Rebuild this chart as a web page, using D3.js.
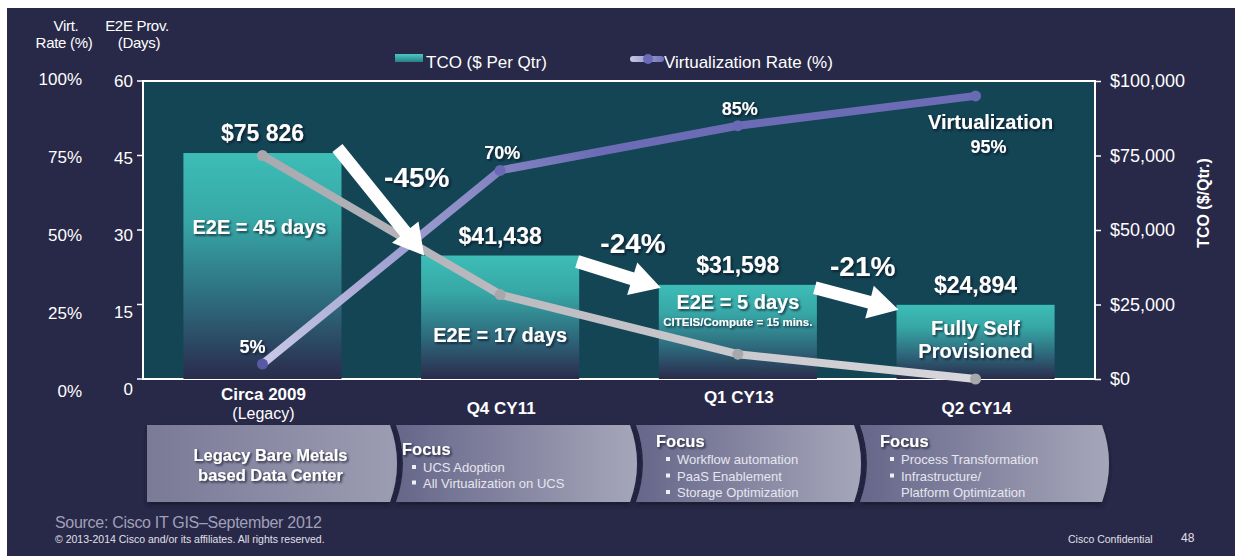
<!DOCTYPE html>
<html>
<head>
<meta charset="utf-8">
<script src="https://cdn.jsdelivr.net/npm/d3@7"></script>
<style>
  html, body { margin: 0; padding: 0; background: #ffffff; }
  svg text { font-family: "Liberation Sans", Arial, sans-serif; }
</style>
</head>
<body>
<div id="chart"></div>
<script>
// chart values
var categories = ["Circa 2009", "Q4 CY11", "Q1 CY13", "Q2 CY14"];
var subLabels = ["(Legacy)", "", "", ""];
var tco = [75826, 41438, 31598, 24894];
var tcoLabels = ["$75 826", "$41,438", "$31,598", "$24,894"];
var e2eDays = [45, 17, 5, 0];
var virtRate = [5, 70, 85, 95];
var barTexts = [["E2E = 45 days"], ["E2E = 17 days"], ["E2E = 5 days", "CITEIS/Compute = 15 mins."], ["Fully Self", "Provisioned"]];
var changeLabels = ["-45%", "-24%", "-21%"];
var virtTicks = [0, 25, 50, 75, 100];
var dayTicks = [0, 15, 30, 45, 60];
var tcoTicks = [0, 25000, 50000, 75000, 100000];
var phaseTitles = ["Legacy Bare Metals\nbased Data Center", "Focus", "Focus", "Focus"];
var phaseItems = [[], ["UCS Adoption", "All Virtualization on UCS"],
  ["Workflow automation", "PaaS Enablement", "Storage Optimization"],
  ["Process Transformation", "Infrastructure/", "~Platform Optimization"]];

var W = 1235, H = 556;
var plot = {left: 143, right: 1095, top: 81, bottom: 379};

var svg = d3.select("#chart").append("svg")
    .attr("width", W).attr("height", H);

var defs = svg.append("defs");

var barGrad = defs.append("linearGradient").attr("id", "barGrad")
    .attr("x1", 0).attr("y1", 0).attr("x2", 0).attr("y2", 1);
barGrad.append("stop").attr("offset", "0%").attr("stop-color", "#3dbdb7");
barGrad.append("stop").attr("offset", "30%").attr("stop-color", "#37a7a6");
barGrad.append("stop").attr("offset", "68%").attr("stop-color", "#2d667a");
barGrad.append("stop").attr("offset", "100%").attr("stop-color", "#2a2b4b");

var legGrad = defs.append("linearGradient").attr("id", "legGrad")
    .attr("x1", 0).attr("y1", 0).attr("x2", 0).attr("y2", 1);
legGrad.append("stop").attr("offset", "0%").attr("stop-color", "#4ac9c2");
legGrad.append("stop").attr("offset", "100%").attr("stop-color", "#2a7f86");

var virtGrad = defs.append("linearGradient").attr("id", "virtGrad")
    .attr("gradientUnits", "userSpaceOnUse")
    .attr("x1", 263).attr("y1", 364).attr("x2", 600).attr("y2", 150);
virtGrad.append("stop").attr("offset", "0%").attr("stop-color", "#c8c8e6");
virtGrad.append("stop").attr("offset", "100%").attr("stop-color", "#6c6cb6");

var dayGrad = defs.append("linearGradient").attr("id", "dayGrad")
    .attr("gradientUnits", "userSpaceOnUse")
    .attr("x1", 263).attr("y1", 155).attr("x2", 975).attr("y2", 380);
dayGrad.append("stop").attr("offset", "0%").attr("stop-color", "#a9a9b0");
dayGrad.append("stop").attr("offset", "100%").attr("stop-color", "#d8d8dc");

var legVirtGrad = defs.append("linearGradient").attr("id", "legVirtGrad")
    .attr("x1", 0).attr("y1", 0).attr("x2", 1).attr("y2", 0);
legVirtGrad.append("stop").attr("offset", "0%").attr("stop-color", "#c8c8e6");
legVirtGrad.append("stop").attr("offset", "100%").attr("stop-color", "#7070b8");

var phaseGrad = defs.append("linearGradient").attr("id", "phaseGrad")
    .attr("x1", 0).attr("y1", 0).attr("x2", 1).attr("y2", 0);
phaseGrad.append("stop").attr("offset", "0%").attr("stop-color", "#66668a");
phaseGrad.append("stop").attr("offset", "100%").attr("stop-color", "#a6a6ba");

var phase1Grad = defs.append("linearGradient").attr("id", "phase1Grad")
    .attr("x1", 0).attr("y1", 0).attr("x2", 1).attr("y2", 0);
phase1Grad.append("stop").attr("offset", "0%").attr("stop-color", "#7a7a98");
phase1Grad.append("stop").attr("offset", "100%").attr("stop-color", "#9c9cb2");

var shadow = defs.append("filter").attr("id", "shadow")
    .attr("x", "-20%").attr("y", "-20%").attr("width", "140%").attr("height", "140%");
shadow.append("feDropShadow").attr("dx", 1.5).attr("dy", 1.5)
    .attr("stdDeviation", 1).attr("flood-color", "#101020").attr("flood-opacity", 0.8);

var panelShadow = defs.append("filter").attr("id", "panelShadow")
    .attr("x", "-5%").attr("y", "-20%").attr("width", "110%").attr("height", "150%");
panelShadow.append("feDropShadow").attr("dx", 0).attr("dy", 3)
    .attr("stdDeviation", 2).attr("flood-color", "#14142a").attr("flood-opacity", 0.8);

// background
svg.append("rect").attr("x", 7).attr("y", 8).attr("width", W - 7).attr("height", H - 8)
    .attr("fill", "#282848");

// scales
var x = d3.scaleBand().domain(categories)
    .range([plot.left, plot.right]).paddingInner(0.335).paddingOuter(0.17);
var yTco = d3.scaleLinear().domain([0, 100000]).range([plot.bottom, plot.top]);
var yDays = d3.scaleLinear().domain([0, 60]).range([plot.bottom, plot.top]);
var yVirt = d3.scaleLinear().domain([0, 100]).range([plot.bottom, plot.top]);
var yLab = d3.scaleLinear().domain([0, 60]).range([plot.bottom + 10, plot.top]);
var yVirtLab = d3.scaleLinear().domain([0, 100]).range([plot.bottom + 12, plot.top - 2]);

// plot area
svg.append("rect")
    .attr("x", plot.left).attr("y", plot.top)
    .attr("width", plot.right - plot.left).attr("height", plot.bottom - plot.top)
    .attr("fill", "#134555").attr("stroke", "#ffffff").attr("stroke-width", 2);

// left days axis
var dayAxis = svg.append("g");
dayAxis.selectAll("line").data(dayTicks).enter().append("line")
    .attr("x1", plot.left - 6).attr("x2", plot.left)
    .attr("y1", function(d) { return yDays(d); }).attr("y2", function(d) { return yDays(d); })
    .attr("stroke", "#ffffff").attr("stroke-width", 1.5);
dayAxis.selectAll("text").data(dayTicks).enter().append("text")
    .attr("x", 133).attr("y", function(d) { return yLab(d); })
    .attr("dy", "0.35em").attr("text-anchor", "end")
    .attr("fill", "#ffffff").attr("font-size", 17)
    .text(function(d) { return d; });

var virtAxis = svg.append("g");
virtAxis.selectAll("text").data(virtTicks).enter().append("text")
    .attr("x", 82).attr("y", function(d) { return yVirtLab(d); })
    .attr("dy", "0.35em").attr("text-anchor", "end")
    .attr("fill", "#ffffff").attr("font-size", 17)
    .text(function(d) { return d + "%"; });

// axis titles
var titles = [["Virt.", 66, 31], ["Rate (%)", 64, 48], ["E2E Prov.", 137, 31], ["(Days)", 139, 48]];
svg.selectAll(".ltitle").data(titles).enter().append("text")
    .attr("class", "ltitle")
    .attr("x", function(d) { return d[1]; }).attr("y", function(d) { return d[2]; })
    .attr("text-anchor", "middle").attr("fill", "#ffffff").attr("font-size", 15)
    .attr("letter-spacing", -0.3)
    .text(function(d) { return d[0]; });

// right axis
var rightAxis = svg.append("g")
    .attr("transform", "translate(" + plot.right + ",0)")
    .call(d3.axisRight(yTco).tickValues(tcoTicks).tickSize(6).tickPadding(9)
      .tickFormat(function(d) { return "$" + d3.format(",")(d); }));
rightAxis.select(".domain").remove();
rightAxis.selectAll("line").attr("stroke", "#ffffff").attr("stroke-width", 1.5);
rightAxis.selectAll("text").attr("fill", "#ffffff").attr("font-size", 18)
    .attr("font-family", "Liberation Sans, Arial, sans-serif");

svg.append("text")
    .attr("transform", "translate(1209,203) rotate(-90)")
    .attr("text-anchor", "middle").attr("fill", "#ffffff")
    .attr("font-size", 16).attr("font-weight", "bold")
    .text("TCO ($/Qtr.)");

// legend
svg.append("rect").attr("x", 395).attr("y", 54).attr("width", 28).attr("height", 8)
    .attr("fill", "url(#legGrad)");
svg.append("text").attr("x", 426).attr("y", 68).attr("fill", "#ffffff")
    .attr("font-size", 17).text("TCO ($ Per Qtr)");
svg.append("rect").attr("x", 630).attr("y", 56).attr("width", 34).attr("height", 6)
    .attr("rx", 3).attr("fill", "url(#legVirtGrad)");
svg.append("circle").attr("cx", 648).attr("cy", 59).attr("r", 5).attr("fill", "#6a6ab8");
svg.append("text").attr("x", 664).attr("y", 68).attr("fill", "#ffffff")
    .attr("font-size", 17).text("Virtualization Rate (%)");

// bars
var bw = x.bandwidth();
svg.selectAll(".bar").data(categories).enter().append("rect")
    .attr("class", "bar")
    .attr("x", function(d) { return x(d); })
    .attr("y", function(d, i) { return yTco(tco[i]); })
    .attr("width", bw)
    .attr("height", function(d, i) { return yTco(0) - yTco(tco[i]); })
    .attr("fill", "url(#barGrad)");

// white arrows between bars
function arrowPath(x0, y0, x1, y1) {
  var dx = x1 - x0, dy = y1 - y0, len = Math.sqrt(dx * dx + dy * dy);
  var ux = dx / len, uy = dy / len, px = -uy, py = ux;
  var sw = 6.5, hw = 17, hl = 30;
  var bx = x1 - ux * hl, by = y1 - uy * hl;
  var pts = [
    [x0 + px * sw, y0 + py * sw], [bx + px * sw, by + py * sw], [bx + px * hw, by + py * hw],
    [x1, y1], [bx - px * hw, by - py * hw], [bx - px * sw, by - py * sw], [x0 - px * sw, y0 - py * sw]
  ];
  return "M" + pts.map(function(p) { return p[0].toFixed(1) + "," + p[1].toFixed(1); }).join("L") + "Z";
}

// lines
var dayLine = d3.line()
    .x(function(d, i) { return x(categories[i]) + bw / 2; })
    .y(function(d) { return yDays(d); });
var virtLine = d3.line()
    .x(function(d, i) { return x(categories[i]) + bw / 2; })
    .y(function(d) { return yVirt(d); });

svg.append("path").datum(virtRate).attr("d", virtLine)
    .attr("fill", "none").attr("stroke", "url(#virtGrad)").attr("stroke-width", 8)
    .attr("stroke-linejoin", "round");
svg.selectAll(".vdot").data(virtRate).enter().append("circle")
    .attr("cx", function(d, i) { return x(categories[i]) + bw / 2; })
    .attr("cy", function(d) { return yVirt(d); })
    .attr("r", 5.5).attr("fill", function(d, i) { return i === 0 ? "#5858a4" : "#6a6ab4"; });

svg.append("path").datum(e2eDays).attr("d", dayLine)
    .attr("fill", "none").attr("stroke", "url(#dayGrad)").attr("stroke-width", 8)
    .attr("stroke-linejoin", "round");
svg.selectAll(".ddot").data(e2eDays).enter().append("circle")
    .attr("cx", function(d, i) { return x(categories[i]) + bw / 2; })
    .attr("cy", function(d) { return yDays(d); })
    .attr("r", 5.5).attr("fill", "#a8a8ac");

var arrowOffsets = [[-4, -5, 3, 0], [-2, 6, 2, 3], [-2, 3, 2, 5]];
var labelOffsets = [[36, -15], [14, -22], [6, -23]];
changeLabels.forEach(function(lbl, i) {
  var o = arrowOffsets[i];
  var x0 = x(categories[i]) + bw + o[0], y0 = yTco(tco[i]) + o[1];
  var x1 = x(categories[i + 1]) + o[2], y1 = yTco(tco[i + 1]) + o[3];
  svg.append("path").attr("d", arrowPath(x0, y0, x1, y1)).attr("fill", "#ffffff");
  svg.append("text")
      .attr("x", (x0 + x1) / 2 + labelOffsets[i][0]).attr("y", (y0 + y1) / 2 + labelOffsets[i][1])
      .attr("text-anchor", "middle").attr("fill", "#ffffff")
      .attr("font-size", 28).attr("font-weight", "bold").attr("filter", "url(#shadow)")
      .text(lbl);
});

// labels on bars
svg.selectAll(".tcolab").data(tcoLabels).enter().append("text")
    .attr("x", function(d, i) { return x(categories[i]) + bw / 2; })
    .attr("y", function(d, i) { return yTco(tco[i]) - 12; })
    .attr("text-anchor", "middle").attr("fill", "#ffffff")
    .attr("font-size", 23).attr("font-weight", "bold").attr("filter", "url(#shadow)")
    .text(function(d) { return d; });

var barTextY = [[81], [86], [24, 41], [30, 53]];
var barTextSize = [[20], [20], [20, 11.5], [20, 20]];
barTexts.forEach(function(lines, i) {
  lines.forEach(function(t, j) {
    svg.append("text")
        .attr("x", x(categories[i]) + bw / 2 + (i === 0 ? -3 : 0))
        .attr("y", yTco(tco[i]) + barTextY[i][j])
        .attr("text-anchor", "middle").attr("fill", "#ffffff")
        .attr("font-size", barTextSize[i][j]).attr("font-weight", "bold")
        .attr("filter", "url(#shadow)")
        .text(t);
  });
});

// virtualization labels
virtRate.forEach(function(v, i) {
  var cx = x(categories[i]) + bw / 2, cy = yVirt(v);
  if (i < 3) {
    svg.append("text").attr("x", cx + (i === 0 ? -10 : 2)).attr("y", cy - 11)
        .attr("text-anchor", "middle").attr("fill", "#ffffff")
        .attr("font-size", 18).attr("font-weight", "bold").attr("filter", "url(#shadow)")
        .text(v + "%");
  } else {
    svg.append("text").attr("x", cx + 15).attr("y", cy + 33)
        .attr("text-anchor", "middle").attr("fill", "#ffffff")
        .attr("font-size", 20).attr("font-weight", "bold").attr("filter", "url(#shadow)")
        .text("Virtualization");
    svg.append("text").attr("x", cx + 13).attr("y", cy + 57)
        .attr("text-anchor", "middle").attr("fill", "#ffffff")
        .attr("font-size", 18).attr("font-weight", "bold").attr("filter", "url(#shadow)")
        .text(v + "%");
  }
});

// category labels
var catY = [400, 414, 403, 414];
svg.selectAll(".cat").data(categories).enter().append("text")
    .attr("x", function(d) { return x(d) + bw / 2 + 1; })
    .attr("y", function(d, i) { return catY[i]; })
    .attr("text-anchor", "middle").attr("fill", "#ffffff")
    .attr("font-size", 17).attr("font-weight", "bold")
    .text(function(d) { return d; });
svg.selectAll(".subcat").data(subLabels).enter().append("text")
    .attr("x", function(d, i) { return x(categories[i]) + bw / 2 + 1; })
    .attr("y", 419)
    .attr("text-anchor", "middle").attr("fill", "#ffffff").attr("font-size", 16)
    .text(function(d) { return d; });

// bottom phase chevrons
var edges = [147, 396, 636, 860, 1108];
var panelTop = 425, panelBot = 502, panelMid = (panelTop + panelBot) / 2, bulge = 14;
var panel = svg.append("g").attr("filter", "url(#panelShadow)");
phaseTitles.forEach(function(title, i) {
  var x0 = edges[i], x1 = edges[i + 1];
  var p = "M" + x0 + "," + panelTop + "L" + (x1 - 6) + "," + panelTop +
    "Q" + (x1 + bulge - 6) + "," + panelMid + " " + (x1 - 6) + "," + panelBot +
    "L" + x0 + "," + panelBot;
  if (i === 0) p += "Z";
  else p += "Q" + (x0 + bulge) + "," + panelMid + " " + x0 + "," + panelTop + "Z";
  panel.append("path").attr("d", p)
      .attr("fill", i === 0 ? "url(#phase1Grad)" : "url(#phaseGrad)");
});
phaseTitles.forEach(function(title, i) {
  var x0 = edges[i], x1 = edges[i + 1];
  if (i === 0) {
    title.split("\n").forEach(function(t, j) {
      svg.append("text").attr("x", (x0 + x1) / 2 - 1).attr("y", 461 + j * 20)
          .attr("text-anchor", "middle").attr("fill", "#ffffff")
          .attr("font-size", 16.5).attr("font-weight", "bold").attr("filter", "url(#shadow)")
          .text(t);
    });
  } else {
    var ty = i === 1 ? 455 : 447;
    var tx = x0 + (i === 1 ? 6 : 20);
    svg.append("text").attr("x", tx).attr("y", ty)
        .attr("fill", "#ffffff").attr("font-size", 16.5).attr("font-weight", "bold")
        .attr("filter", "url(#shadow)").text(title);
    var step = i === 1 ? 15.5 : 16.5;
    phaseItems[i].forEach(function(t, j) {
      var yy = ty + 17 + j * step;
      var cont = t.charAt(0) === "~";
      if (!cont) {
        svg.append("rect").attr("x", tx + 10).attr("y", yy - 7).attr("width", 4).attr("height", 4)
            .attr("fill", "#f0f0f4");
      }
      svg.append("text").attr("x", tx + 21).attr("y", yy)
          .attr("fill", "#e6e6ee").attr("font-size", 13)
          .text(cont ? t.slice(1) : t);
    });
  }
});

// footer
svg.append("text").attr("x", 55).attr("y", 528).attr("fill", "#a0a0b8")
    .attr("font-size", 16).attr("letter-spacing", -0.3).text("Source: Cisco IT GIS\u2013September 2012");
svg.append("text").attr("x", 55).attr("y", 543).attr("fill", "#e0e0e8")
    .attr("font-size", 10.5).attr("letter-spacing", 0)
    .text("\u00a9 2013-2014  Cisco and/or its affiliates. All rights reserved.");
svg.append("text").attr("x", 1068).attr("y", 543).attr("fill", "#e0e0e8")
    .attr("font-size", 10.5).text("Cisco Confidential");
svg.append("text").attr("x", 1181).attr("y", 542).attr("fill", "#e0e0e8")
    .attr("font-size", 12).text("48");
</script>
</body>
</html>
